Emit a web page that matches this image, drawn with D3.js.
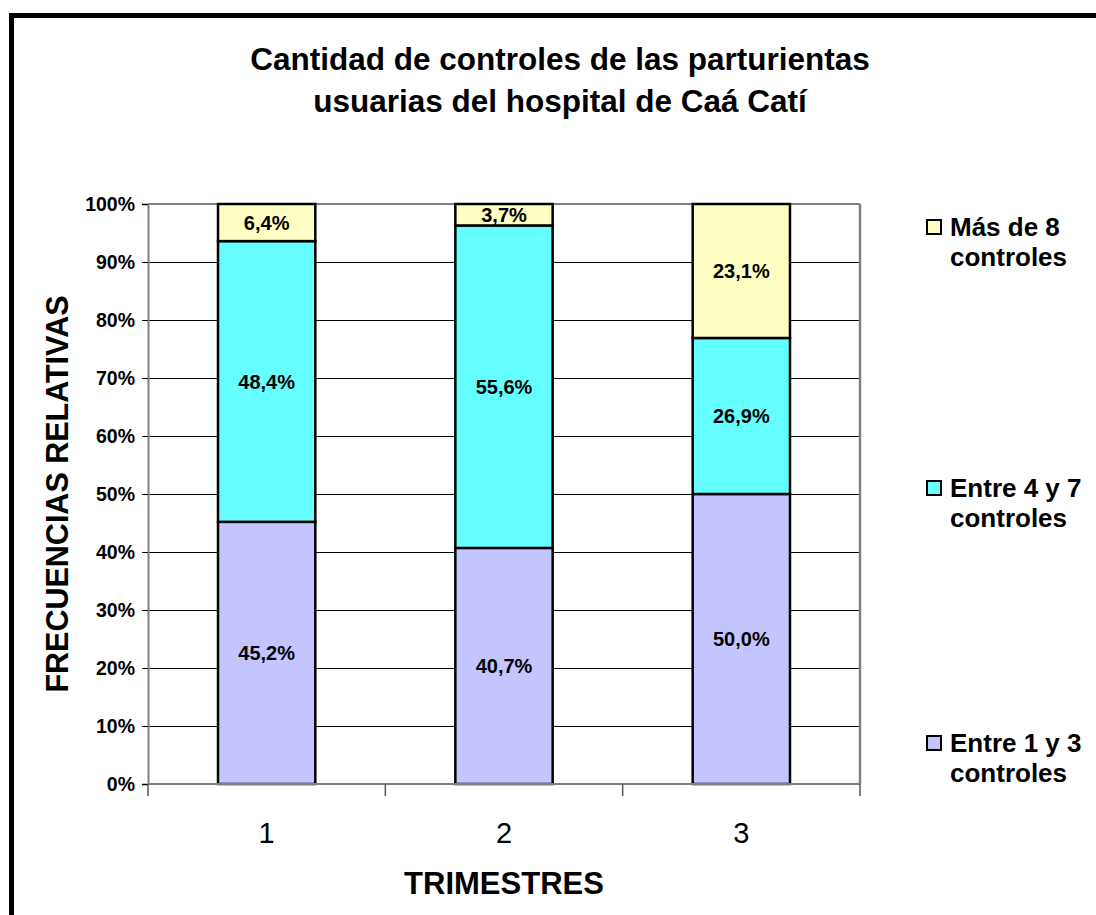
<!DOCTYPE html>
<html>
<head>
<meta charset="utf-8">
<script src="https://cdn.jsdelivr.net/npm/d3@7"></script>
<style>
  body { margin: 0; background: #ffffff; }
  text { font-family: Arial, "Liberation Sans", sans-serif; }
</style>
</head>
<body>
<div id="chart"></div>
<script>
// datos
var trimestres = ["1", "2", "3"];
var series = ["Entre 1 y 3 controles", "Entre 4 y 7 controles", "Más de 8 controles"];
var entre1y3 = [45.2, 40.7, 50.0];
var entre4y7 = [48.4, 55.6, 26.9];
var masDe8 = [6.4, 3.7, 23.1];
var yTicks = [0, 10, 20, 30, 40, 50, 60, 70, 80, 90, 100];
var colores = ["#c4c4ff", "#66ffff", "#ffffc4"];

var width = 1096;
var height = 915;
var margin = { "top": 204, "bottom": 131, "right": 236, "left": 148 };

var svg = d3.select("#chart").append("svg").attr("width", width).attr("height", height);

svg.append("rect").attr("width", width).attr("height", height).attr("fill", "#ffffff");

// marco grueso
svg.append("rect")
  .attr("x", 11.5).attr("y", 15.5)
  .attr("width", 1300).attr("height", 1200)
  .attr("fill", "none").attr("stroke", "#000").attr("stroke-width", 5);

var xScale = d3.scaleBand()
  .domain(trimestres)
  .range([margin.left, width - margin.right])
  .padding(0);

var yScale = d3.scaleLinear()
  .domain([0, 100])
  .range([height - margin.bottom, margin.top]);

// gridlines
svg.append("g")
  .selectAll("line")
  .data(yTicks.filter(d => d > 0 && d < 100))
  .enter()
  .append("line")
  .attr("x1", margin.left).attr("x2", width - margin.right)
  .attr("y1", d => yScale(d) + 0.5).attr("y2", d => yScale(d) + 0.5)
  .attr("stroke", "#000").attr("stroke-width", 1);

// borde del area de trazado
svg.append("line")
  .attr("x1", margin.left).attr("x2", width - margin.right)
  .attr("y1", yScale(100)).attr("y2", yScale(100))
  .attr("stroke", "#808080").attr("stroke-width", 2);
svg.append("line")
  .attr("x1", width - margin.right).attr("x2", width - margin.right)
  .attr("y1", yScale(100)).attr("y2", yScale(0))
  .attr("stroke", "#808080").attr("stroke-width", 2.5);

// barras apiladas
var tabla = trimestres.map(function(t, i) {
  return { "trimestre": t, "s0": entre1y3[i], "s1": entre4y7[i], "s2": masDe8[i] };
});
var stack = d3.stack().keys(["s0", "s1", "s2"]);
var apilado = stack(tabla);

var barW = xScale.bandwidth() * 0.41;

var capas = svg.append("g")
  .selectAll("g")
  .data(apilado)
  .enter()
  .append("g")
  .attr("fill", (d, i) => colores[i]);

capas.selectAll("rect")
  .data(d => d)
  .enter()
  .append("rect")
  .attr("x", d => xScale(d.data.trimestre) + (xScale.bandwidth() - barW) / 2)
  .attr("y", d => yScale(d[1]))
  .attr("width", barW)
  .attr("height", d => yScale(d[0]) - yScale(d[1]))
  .attr("stroke", "#000")
  .attr("stroke-width", 2.5);

capas.selectAll("text")
  .data(d => d)
  .enter()
  .append("text")
  .attr("x", d => xScale(d.data.trimestre) + xScale.bandwidth() / 2)
  .attr("y", d => (yScale(d[0]) + yScale(d[1])) / 2)
  .attr("dy", "0.36em")
  .attr("text-anchor", "middle")
  .attr("fill", "#000")
  .style("font-size", "20px")
  .style("font-weight", "bold")
  .text(d => d3.format(".1f")(d[1] - d[0]).replace(".", ",") + "%");

// eje y
var axisy = d3.axisLeft(yScale).tickValues(yTicks).tickSize(6).tickFormat(d => d + "%");
var gy = svg.append("g")
  .attr("transform", "translate(" + margin.left + ",0)")
  .call(axisy);
gy.select(".domain").attr("stroke", "#808080").attr("stroke-width", 2);
gy.selectAll(".tick line").attr("stroke", "#000");
gy.selectAll(".tick text")
  .attr("x", -13)
  .style("font-size", "19.5px")
  .style("font-weight", "bold")
  .style("font-family", "Arial, 'Liberation Sans', sans-serif")
  .attr("fill", "#000");

// eje x
svg.append("line")
  .attr("x1", margin.left).attr("x2", width - margin.right)
  .attr("y1", yScale(0)).attr("y2", yScale(0))
  .attr("stroke", "#808080").attr("stroke-width", 2);
var bordes = xScale.domain().map(d => xScale(d)).concat([width - margin.right]);
svg.append("g")
  .selectAll("line")
  .data(bordes)
  .enter()
  .append("line")
  .attr("x1", d => d).attr("x2", d => d)
  .attr("y1", yScale(0)).attr("y2", yScale(0) + 12)
  .attr("stroke", "#555").attr("stroke-width", 1.5);
svg.append("g")
  .selectAll("text")
  .data(trimestres)
  .enter()
  .append("text")
  .attr("x", d => xScale(d) + xScale.bandwidth() / 2)
  .attr("y", 843)
  .attr("text-anchor", "middle")
  .style("font-size", "29px")
  .text(d => d);

// titulos
svg.append("text")
  .attr("x", 560).attr("y", 70)
  .attr("text-anchor", "middle")
  .style("font-size", "31.5px").style("font-weight", "bold")
  .text("Cantidad de controles de las parturientas");
svg.append("text")
  .attr("x", 560).attr("y", 112)
  .attr("text-anchor", "middle")
  .style("font-size", "31.5px").style("font-weight", "bold")
  .text("usuarias del hospital de Caá Catí");

svg.append("text")
  .attr("x", 504).attr("y", 894)
  .attr("text-anchor", "middle")
  .style("font-size", "31px").style("font-weight", "bold")
  .text("TRIMESTRES");

svg.append("text")
  .attr("transform", "translate(68," + ((yScale(0) + yScale(100)) / 2) + ") rotate(-90)")
  .attr("text-anchor", "middle")
  .style("font-size", "30.5px").style("font-weight", "bold")
  .text("FRECUENCIAS RELATIVAS");

// leyenda
var leyendaY = [743, 488, 227];
var leyenda = svg.append("g")
  .selectAll("g")
  .data(series)
  .enter()
  .append("g")
  .attr("transform", (d, i) => "translate(927," + leyendaY[i] + ")");
leyenda.append("rect")
  .attr("x", 0).attr("y", -7)
  .attr("width", 14).attr("height", 14)
  .attr("fill", (d, i) => colores[i])
  .attr("stroke", "#000").attr("stroke-width", 2);
leyenda.each(function(d) {
  var partes = d.split(" controles");
  var t = d3.select(this).append("text")
    .attr("x", 23).attr("y", 9)
    .style("font-size", "26px").style("font-weight", "bold");
  t.append("tspan").attr("x", 23).text(partes[0]);
  t.append("tspan").attr("x", 23).attr("dy", 30).text("controles");
});
</script>
</body>
</html>
